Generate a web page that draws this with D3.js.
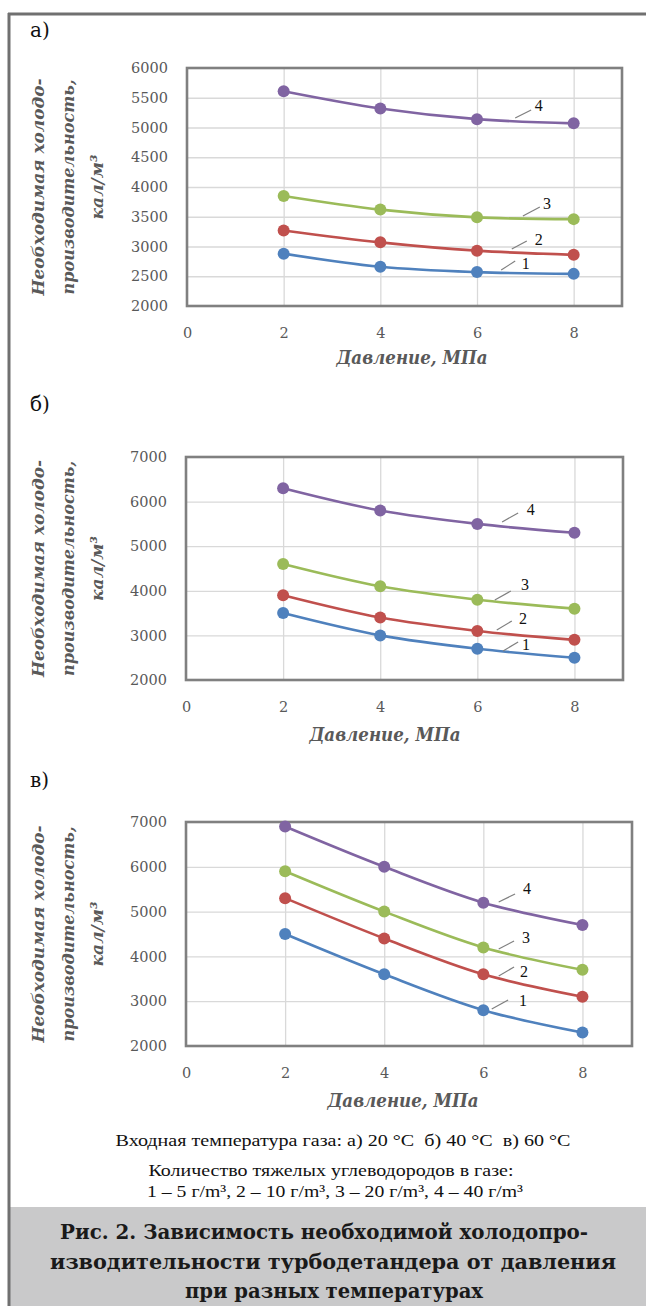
<!DOCTYPE html>
<html>
<head>
<meta charset="utf-8">
<script src="https://cdn.jsdelivr.net/npm/d3@7"></script>
<style>
  body { margin: 0; background: #fff; }
  svg { display: block; }
</style>
</head>
<body>
<div id="chart"></div>
<script>
// Data
const pressure = [2, 4, 6, 8];
const seriesNames = ["1", "2", "3", "4"];
const colors = ["#4f81bd", "#c0504d", "#9bbb59", "#8064a2"];

// а) 20 °C
const valuesA = [
  [2880, 2660, 2570, 2540],
  [3270, 3070, 2930, 2860],
  [3850, 3620, 3490, 3460],
  [5610, 5320, 5140, 5070]
];
// б) 40 °C
const valuesB = [
  [3500, 3000, 2700, 2500],
  [3900, 3400, 3100, 2900],
  [4600, 4100, 3800, 3600],
  [6300, 5800, 5500, 5300]
];
// в) 60 °C
const valuesC = [
  [4500, 3600, 2800, 2300],
  [5300, 4400, 3600, 3100],
  [5900, 5000, 4200, 3700],
  [6900, 6000, 5200, 4700]
];

const xTicks = [0, 2, 4, 6, 8];
const yTicksA = [2000, 2500, 3000, 3500, 4000, 4500, 5000, 5500, 6000];
const yTicksBC = [2000, 3000, 4000, 5000, 6000, 7000];

// series labels with leader lines: [x0, y0, x1, y1, textX, textY] in data units
const labelsA = [
  [6.50, 2605, 6.79, 2756, 7.01, 2723],
  [6.72, 2958, 7.03, 3092, 7.28, 3126],
  [6.95, 3513, 7.30, 3664, 7.45, 3731],
  [6.79, 5160, 7.12, 5294, 7.28, 5378]
];
const labelsB = [
  [6.53, 2650, 6.84, 2852, 7.00, 2807],
  [6.40, 3121, 6.71, 3323, 6.94, 3390],
  [6.36, 3794, 6.69, 3996, 6.98, 4152],
  [6.51, 5543, 6.84, 5744, 7.10, 5834]
];
const labelsC = [
  [6.17, 2826, 6.50, 3027, 6.80, 3027],
  [6.31, 3563, 6.62, 3763, 6.82, 3674],
  [6.31, 4165, 6.62, 4344, 6.86, 4433],
  [6.31, 5214, 6.64, 5393, 6.88, 5527]
];

const W = 646, H = 1306;
const gray = "#595959";
const serif = "'DejaVu Serif', serif";

const svg = d3.select("#chart")
  .append("svg")
  .attr("width", W)
  .attr("height", H);

// Caption band and page frame
svg.append("rect")
  .attr("x", 10).attr("y", 1207)
  .attr("width", W - 10).attr("height", H - 1207)
  .attr("fill", "#c9c9ca");

svg.append("line")
  .attr("x1", 8).attr("x2", W).attr("y1", 14).attr("y2", 14)
  .attr("stroke", "#707070").attr("stroke-width", 3);
svg.append("line")
  .attr("x1", 9).attr("x2", 9).attr("y1", 13).attr("y2", H)
  .attr("stroke", "#707070").attr("stroke-width", 3);

const panels = [
  { letter: "а)", values: valuesA, yTicks: yTicksA, labels: labelsA,
    l: 187, r: 622, t: 68, b: 306, letterY: 37, titleX: 412, titleY: 364 },
  { letter: "б)", values: valuesB, yTicks: yTicksBC, labels: labelsB,
    l: 186, r: 623, t: 457, b: 680, letterY: 411, titleX: 385, titleY: 741 },
  { letter: "в)", values: valuesC, yTicks: yTicksBC, labels: labelsC,
    l: 186, r: 632, t: 822, b: 1046, letterY: 787, titleX: 403, titleY: 1107 }
];

panels.forEach(p => {
  const x = d3.scaleLinear().domain([0, 9]).range([p.l, p.r]);
  const y = d3.scaleLinear()
    .domain([p.yTicks[0], p.yTicks[p.yTicks.length - 1]])
    .range([p.b, p.t]);

  // Panel letter
  svg.append("text")
    .attr("x", 30).attr("y", p.letterY)
    .attr("font-family", serif).attr("font-size", 20)
    .attr("fill", "#111")
    .text(p.letter);

  // Gridlines
  svg.append("g")
    .attr("transform", `translate(${p.l},0)`)
    .call(d3.axisLeft(y).tickValues(p.yTicks.slice(1, -1)).tickSize(-(p.r - p.l)).tickFormat(""))
    .call(g => g.select(".domain").remove())
    .selectAll("line").attr("stroke", "#d9d9d9").attr("stroke-width", 1.3);

  svg.append("g")
    .attr("transform", `translate(0,${p.b})`)
    .call(d3.axisBottom(x).tickValues(pressure).tickSize(-(p.b - p.t)).tickFormat(""))
    .call(g => g.select(".domain").remove())
    .selectAll("line").attr("stroke", "#d9d9d9").attr("stroke-width", 1.3);

  // Plot frame
  svg.append("rect")
    .attr("x", p.l).attr("y", p.t)
    .attr("width", p.r - p.l).attr("height", p.b - p.t)
    .attr("fill", "none").attr("stroke", "#808080").attr("stroke-width", 2.6);

  // Y axis labels
  const yAxis = svg.append("g")
    .attr("transform", `translate(${p.l},0)`)
    .call(d3.axisLeft(y).tickValues(p.yTicks).tickSize(0).tickPadding(19).tickFormat(d3.format("d")));
  yAxis.select(".domain").remove();
  yAxis.attr("font-family", serif).attr("font-size", 14.5);
  yAxis.selectAll("text").attr("fill", gray);

  // X axis labels
  const xAxis = svg.append("g")
    .attr("transform", `translate(0,${p.b})`)
    .call(d3.axisBottom(x).tickValues(xTicks).tickSize(0));
  xAxis.select(".domain").remove();
  xAxis.attr("font-family", serif).attr("font-size", 14.5);
  xAxis.selectAll("text").attr("fill", gray).attr("y", 32).attr("dy", null);

  // Axis titles
  svg.append("text")
    .attr("x", p.titleX).attr("y", p.titleY)
    .attr("text-anchor", "middle")
    .attr("font-family", serif).attr("font-size", 18)
    .attr("font-style", "italic").attr("font-weight", "bold")
    .attr("fill", gray)
    .attr("textLength", 151).attr("lengthAdjust", "spacingAndGlyphs")
    .text("Давление, МПа");

  const yTitle = svg.append("g")
    .attr("transform", `translate(0,${(p.t + p.b) / 2}) rotate(-90)`)
    .attr("font-family", serif).attr("font-size", 17)
    .attr("font-style", "italic").attr("font-weight", "bold")
    .attr("fill", gray)
    .attr("text-anchor", "middle");
  yTitle.append("text").attr("x", 0).attr("y", 44)
    .attr("textLength", 217).attr("lengthAdjust", "spacingAndGlyphs")
    .text("Необходимая холодо-");
  yTitle.append("text").attr("x", 0).attr("y", 74)
    .attr("textLength", 215).attr("lengthAdjust", "spacingAndGlyphs")
    .text("производительность,");
  yTitle.append("text").attr("x", 0).attr("y", 103)
    .text("кал/м³");

  // Lines
  const line = d3.line()
    .x((d, i) => x(pressure[i]))
    .y(d => y(d))
    .curve(d3.curveCatmullRom.alpha(0.5));

  p.values.forEach((vals, k) => {
    svg.append("path")
      .datum(vals)
      .attr("fill", "none")
      .attr("stroke", colors[k])
      .attr("stroke-width", 2.6)
      .attr("d", line);

    svg.selectAll(null)
      .data(vals)
      .enter().append("circle")
      .attr("cx", (d, i) => x(pressure[i]))
      .attr("cy", d => y(d))
      .attr("r", 6)
      .attr("fill", colors[k]);
  });

  // Series labels
  p.labels.forEach((lb, k) => {
    svg.append("line")
      .attr("x1", x(lb[0])).attr("y1", y(lb[1]))
      .attr("x2", x(lb[2])).attr("y2", y(lb[3]))
      .attr("stroke", "#7f7f7f").attr("stroke-width", 1.2);
    svg.append("text")
      .attr("x", x(lb[4])).attr("y", y(lb[5]))
      .attr("text-anchor", "middle").attr("dy", "0.35em")
      .attr("font-family", "'Liberation Serif', serif").attr("font-size", 16)
      .attr("fill", "#111")
      .text(seriesNames[k]);
  });
});

// Caption
const notes = [
  { text: "Входная температура газа: а) 20 °С  б) 40 °С  в) 60 °С", y: 1146, len: 455, cx: 343 },
  { text: "Количество тяжелых углеводородов в газе:", y: 1176, len: 365, cx: 331 },
  { text: "1 – 5 г/m³, 2 – 10 г/m³, 3 – 20 г/m³, 4 – 40 г/m³", y: 1197, len: 376, cx: 335 }
];
notes.forEach(n => {
  svg.append("text")
    .attr("x", n.cx).attr("y", n.y)
    .attr("text-anchor", "middle")
    .attr("font-family", "'Liberation Serif', serif").attr("font-size", 17)
    .attr("fill", "#111")
    .style("white-space", "pre")
    .attr("textLength", n.len).attr("lengthAdjust", "spacingAndGlyphs")
    .text(n.text);
});

const heading = [
  { text: "Рис. 2. Зависимость необходимой холодопро-", y: 1239, len: 528, cx: 324 },
  { text: "изводительности турбодетандера от давления", y: 1269, len: 566, cx: 333 },
  { text: "при разных температурах", y: 1298, len: 298, cx: 334 }
];
heading.forEach(n => {
  svg.append("text")
    .attr("x", n.cx).attr("y", n.y)
    .attr("text-anchor", "middle")
    .attr("font-family", serif).attr("font-size", 20).attr("font-weight", "bold")
    .attr("fill", "#1a1a1a")
    .attr("textLength", n.len).attr("lengthAdjust", "spacingAndGlyphs")
    .text(n.text);
});
</script>
</body>
</html>
